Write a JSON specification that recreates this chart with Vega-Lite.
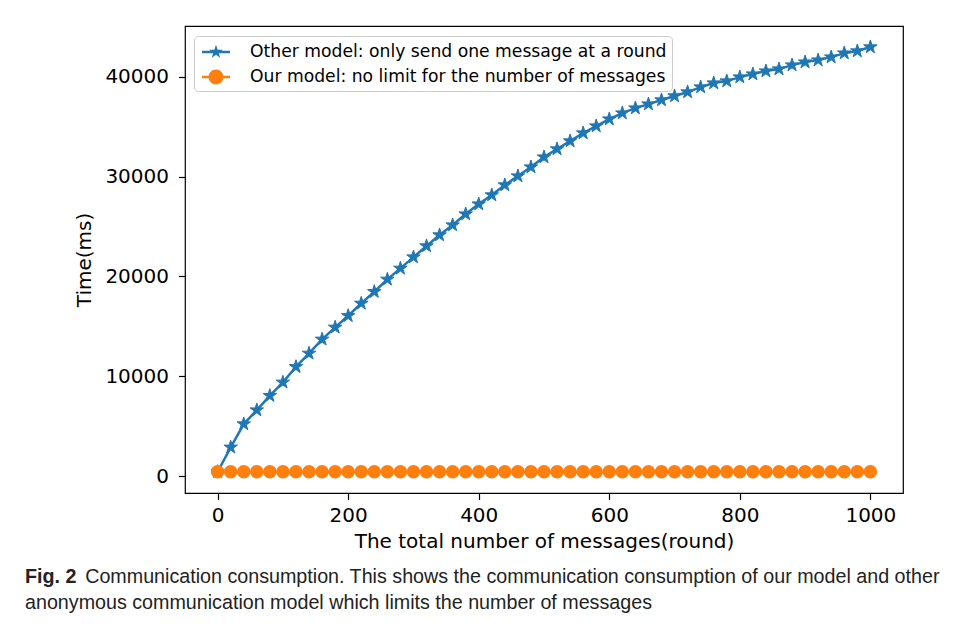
{
  "$schema": "https://vega.github.io/schema/vega-lite/v6.json",
  "width": 718,
  "height": 467,
  "autosize": {"type": "none"},
  "padding": {"left": 185, "top": 26, "right": 52, "bottom": 131},
  "background": "white",
  "config": {"view": {"stroke": "black", "strokeWidth": 1.2}, "font": "DejaVu Sans"},
  "title": {
    "text": "Fig. 2",
    "subtitle": ["\u200b\u00a0\u00a0\u00a0\u00a0\u00a0\u00a0\u00a0\u00a0\u00a0\u00a0\u00a0Communication consumption. This shows the communication consumption of our model and other", "anonymous communication model which limits the number of messages"],
    "orient": "bottom",
    "anchor": "start",
    "frame": "group",
    "dx": -160,
    "offset": 15,
    "font": "Liberation Sans",
    "fontSize": 19.7,
    "fontWeight": "bold",
    "color": "#222222",
    "subtitleFont": "Liberation Sans",
    "subtitleFontSize": 19.7,
    "subtitleColor": "#222222",
    "subtitlePadding": -19.7,
    "subtitleLineHeight": 26
  },
  "data": {"values": [
    {"n": 0, "t": 430, "s": "other"},
    {"n": 20, "t": 2880, "s": "other"},
    {"n": 40, "t": 5210, "s": "other"},
    {"n": 60, "t": 6610, "s": "other"},
    {"n": 80, "t": 8050, "s": "other"},
    {"n": 100, "t": 9390, "s": "other"},
    {"n": 120, "t": 10950, "s": "other"},
    {"n": 140, "t": 12290, "s": "other"},
    {"n": 160, "t": 13700, "s": "other"},
    {"n": 180, "t": 14900, "s": "other"},
    {"n": 200, "t": 16060, "s": "other"},
    {"n": 220, "t": 17300, "s": "other"},
    {"n": 240, "t": 18470, "s": "other"},
    {"n": 260, "t": 19710, "s": "other"},
    {"n": 280, "t": 20810, "s": "other"},
    {"n": 300, "t": 21940, "s": "other"},
    {"n": 320, "t": 23050, "s": "other"},
    {"n": 340, "t": 24150, "s": "other"},
    {"n": 360, "t": 25150, "s": "other"},
    {"n": 380, "t": 26250, "s": "other"},
    {"n": 400, "t": 27250, "s": "other"},
    {"n": 420, "t": 28160, "s": "other"},
    {"n": 440, "t": 29160, "s": "other"},
    {"n": 460, "t": 30060, "s": "other"},
    {"n": 480, "t": 30960, "s": "other"},
    {"n": 500, "t": 31960, "s": "other"},
    {"n": 520, "t": 32770, "s": "other"},
    {"n": 540, "t": 33570, "s": "other"},
    {"n": 560, "t": 34370, "s": "other"},
    {"n": 580, "t": 35070, "s": "other"},
    {"n": 600, "t": 35770, "s": "other"},
    {"n": 620, "t": 36370, "s": "other"},
    {"n": 640, "t": 36870, "s": "other"},
    {"n": 660, "t": 37270, "s": "other"},
    {"n": 680, "t": 37680, "s": "other"},
    {"n": 700, "t": 38080, "s": "other"},
    {"n": 720, "t": 38480, "s": "other"},
    {"n": 740, "t": 38980, "s": "other"},
    {"n": 760, "t": 39380, "s": "other"},
    {"n": 780, "t": 39580, "s": "other"},
    {"n": 800, "t": 39980, "s": "other"},
    {"n": 820, "t": 40280, "s": "other"},
    {"n": 840, "t": 40580, "s": "other"},
    {"n": 860, "t": 40780, "s": "other"},
    {"n": 880, "t": 41180, "s": "other"},
    {"n": 900, "t": 41480, "s": "other"},
    {"n": 920, "t": 41680, "s": "other"},
    {"n": 940, "t": 41980, "s": "other"},
    {"n": 960, "t": 42380, "s": "other"},
    {"n": 980, "t": 42590, "s": "other"},
    {"n": 1000, "t": 42990, "s": "other"},
    {"n": 0, "t": 430, "s": "our"},
    {"n": 20, "t": 430, "s": "our"},
    {"n": 40, "t": 430, "s": "our"},
    {"n": 60, "t": 430, "s": "our"},
    {"n": 80, "t": 430, "s": "our"},
    {"n": 100, "t": 430, "s": "our"},
    {"n": 120, "t": 430, "s": "our"},
    {"n": 140, "t": 430, "s": "our"},
    {"n": 160, "t": 430, "s": "our"},
    {"n": 180, "t": 430, "s": "our"},
    {"n": 200, "t": 430, "s": "our"},
    {"n": 220, "t": 430, "s": "our"},
    {"n": 240, "t": 430, "s": "our"},
    {"n": 260, "t": 430, "s": "our"},
    {"n": 280, "t": 430, "s": "our"},
    {"n": 300, "t": 430, "s": "our"},
    {"n": 320, "t": 430, "s": "our"},
    {"n": 340, "t": 430, "s": "our"},
    {"n": 360, "t": 430, "s": "our"},
    {"n": 380, "t": 430, "s": "our"},
    {"n": 400, "t": 430, "s": "our"},
    {"n": 420, "t": 430, "s": "our"},
    {"n": 440, "t": 430, "s": "our"},
    {"n": 460, "t": 430, "s": "our"},
    {"n": 480, "t": 430, "s": "our"},
    {"n": 500, "t": 430, "s": "our"},
    {"n": 520, "t": 430, "s": "our"},
    {"n": 540, "t": 430, "s": "our"},
    {"n": 560, "t": 430, "s": "our"},
    {"n": 580, "t": 430, "s": "our"},
    {"n": 600, "t": 430, "s": "our"},
    {"n": 620, "t": 430, "s": "our"},
    {"n": 640, "t": 430, "s": "our"},
    {"n": 660, "t": 430, "s": "our"},
    {"n": 680, "t": 430, "s": "our"},
    {"n": 700, "t": 430, "s": "our"},
    {"n": 720, "t": 430, "s": "our"},
    {"n": 740, "t": 430, "s": "our"},
    {"n": 760, "t": 430, "s": "our"},
    {"n": 780, "t": 430, "s": "our"},
    {"n": 800, "t": 430, "s": "our"},
    {"n": 820, "t": 430, "s": "our"},
    {"n": 840, "t": 430, "s": "our"},
    {"n": 860, "t": 430, "s": "our"},
    {"n": 880, "t": 430, "s": "our"},
    {"n": 900, "t": 430, "s": "our"},
    {"n": 920, "t": 430, "s": "our"},
    {"n": 940, "t": 430, "s": "our"},
    {"n": 960, "t": 430, "s": "our"},
    {"n": 980, "t": 430, "s": "our"},
    {"n": 1000, "t": 430, "s": "our"}
  ]},
  "encoding": {
    "x": {
      "field": "n", "type": "quantitative",
      "scale": {"domain": [-50, 1050], "nice": false, "zero": false},
      "axis": {
        "values": [0, 200, 400, 600, 800, 1000], "format": "d",
        "title": "The total number of messages(round)",
        "titleFont": "DejaVu Sans", "titleFontSize": 20, "titleFontWeight": "normal", "titleColor": "black", "titlePadding": 6,
        "labelFont": "DejaVu Sans", "labelFontSize": 20, "labelColor": "black", "labelPadding": 6,
        "tickSize": 6.5, "tickColor": "black", "tickWidth": 1.2, "domain": false, "grid": false
      }
    },
    "y": {
      "field": "t", "type": "quantitative",
      "scale": {"domain": [-1700, 45100], "nice": false, "zero": false},
      "axis": {
        "values": [0, 10000, 20000, 30000, 40000], "format": "d",
        "title": "Time(ms)",
        "titleFont": "DejaVu Sans", "titleFontSize": 20, "titleFontWeight": "normal", "titleColor": "black", "titlePadding": 10,
        "labelFont": "DejaVu Sans", "labelFontSize": 20, "labelColor": "black", "labelPadding": 10,
        "tickSize": 6.5, "tickColor": "black", "tickWidth": 1.2, "domain": false, "grid": false
      }
    },
    "color": {
      "field": "s", "type": "nominal",
      "scale": {"domain": ["other", "our"], "range": ["#1f77b4", "#ff7f0e"]},
      "legend": {
        "title": null, "orient": "none", "legendX": 9, "legendY": 10,
        "padding": 5, "strokeColor": "#cccccc", "fillColor": "rgba(255,255,255,0.8)", "cornerRadius": 4,
        "labelFont": "DejaVu Sans", "labelFontSize": 17.2, "labelColor": "black", "labelLimit": 600,
        "labelOffset": 23, "symbolOffset": 6, "symbolSize": 400, "rowPadding": 5,
        "labelExpr": "datum.value === 'other' ? 'Other model: only send one message at a round' : 'Our model: no limit for the number of messages'",
        "encode": {
          "symbols": {
            "update": {
              "shape": {"signal": "datum.value === 'other' ? 'M-1.4,-0.13H1.4V0.13H-1.4Z M0,-0.72L0.162,-0.222L0.685,-0.222L0.262,0.085L0.423,0.582L0,0.275L-0.423,0.582L-0.262,0.085L-0.685,-0.222L-0.162,-0.222Z' : 'M-1.4,-0.13H1.4V0.13H-1.4Z M0.74,0A0.74,0.74,0,1,1,-0.74,0A0.74,0.74,0,1,1,0.74,0Z'"},
              "fill": {"signal": "datum.value === 'other' ? '#1f77b4' : '#ff7f0e'"},
              "fillOpacity": {"value": 1},
              "strokeOpacity": {"value": 0},
              "opacity": {"value": 1}
            }
          }
        }
      }
    }
  },
  "layer": [
    {"mark": {"type": "line", "strokeWidth": 2.5}},
    {
      "transform": [{"filter": "datum.s === 'other'"}],
      "mark": {"type": "point", "filled": true, "opacity": 1, "size": 200, "strokeWidth": 1, "stroke": "#1f77b4", "shape": "M0,-1L0.2245,-0.309L0.951,-0.309L0.3633,0.118L0.588,0.809L0,0.382L-0.588,0.809L-0.3633,0.118L-0.951,-0.309L-0.2245,-0.309Z"}
    },
    {
      "transform": [{"filter": "datum.s === 'our'"}],
      "mark": {"type": "point", "filled": true, "opacity": 1, "size": 185, "shape": "circle"}
    }
  ]
}
